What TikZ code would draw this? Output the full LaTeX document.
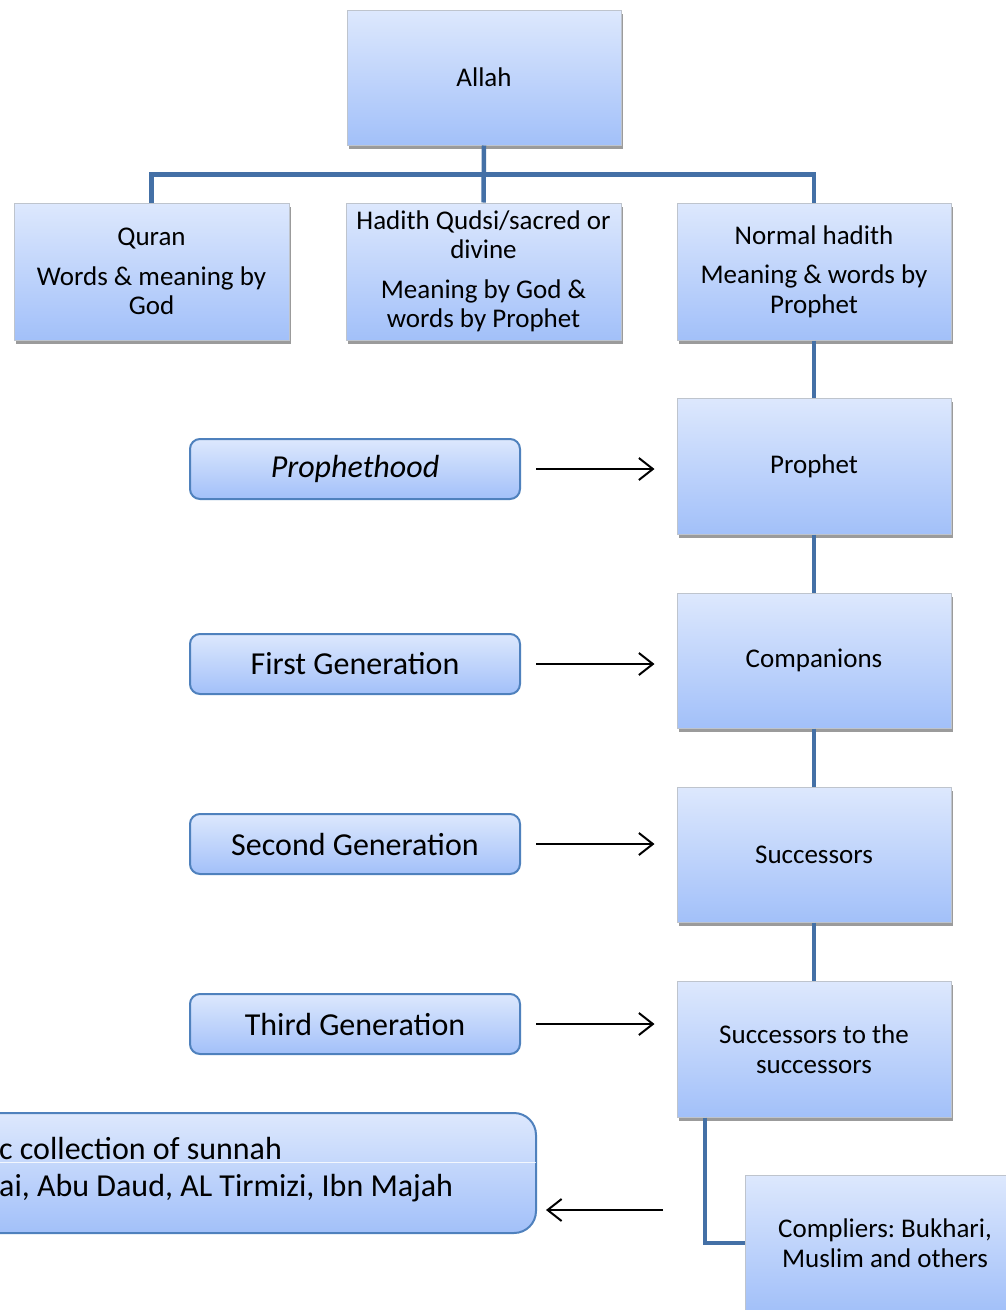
\documentclass[tikz,border=0pt]{standalone}
\usepackage{fontspec}
\setmainfont{Carlito}
\frenchspacing
\usetikzlibrary{arrows.meta,shadows}
\definecolor{topc}{RGB}{221,232,253}
\definecolor{botc}{RGB}{162,192,249}
\definecolor{connc}{RGB}{68,112,166}
\definecolor{rbord}{RGB}{79,129,189}
\definecolor{gbord}{RGB}{190,196,205}
\tikzset{
  sqbox/.style={rectangle, draw=gbord, line width=1pt, top color=topc, bottom color=botc,
    minimum width=274pt, minimum height=136pt, align=center, inner sep=2pt,
    font=\fontsize{27}{29.5}\selectfont\frenchspacing,
    drop shadow={shadow xshift=1.5pt, shadow yshift=-3.5pt, fill=black!65, opacity=0.6}},
  rbox/.style={rectangle, rounded corners=10pt, draw=rbord, line width=2pt, top color=topc, bottom color=botc,
    minimum width=330pt, minimum height=60pt, align=center, font=\fontsize{32}{36}\selectfont},
  conn/.style={draw=connc, line width=4.5pt},
  arr/.style={draw=black, line width=2pt, -{Straight Barb[length=14pt,width=22pt,line width=2pt]}},
  bigtxt/.style={font=\fontsize{32}{36}\selectfont\frenchspacing, inner sep=0pt}
}
\begin{document}
\begin{tikzpicture}[x=1pt,y=-1pt]
\clip (0,0) rectangle (1006,1310);
\fill[white] (0,0) rectangle (1006,1310);

% top tree
\node[sqbox, minimum height=135pt] (allah) at (484,77.5) {Allah};
\node[sqbox, minimum width=275pt, minimum height=137pt] (quran) at (151.5,271.5) {Quran\\[10pt]Words \& meaning by\\God};
\node[sqbox, minimum width=275pt, minimum height=137pt] (qudsi) at (483.5,271.5) {Hadith Qudsi/sacred or\\divine\\[10pt]Meaning by God \&\\words by Prophet};
\node[sqbox, minimum height=137pt] (normal) at (814,271.5) {Normal hadith\\[10pt]Meaning \& words by\\Prophet};

% chain
\node[sqbox] (prophet) at (814,466) {Prophet};
\node[sqbox, minimum height=135pt] (comp) at (814,660.5) {Companions};
\node[sqbox, minimum height=135pt] (succ) at (814,854.5) {Successors};
\node[sqbox] (sts) at (814,1049) {Successors to the\\successors};
\node[sqbox, minimum width=280pt, minimum height=136pt] (compl) at (885,1243) {Compliers: Bukhari,\\Muslim and others};

% generation boxes
\node[rbox] (g0) at (355,469) {\itshape Prophethood};
\node[rbox] (g1) at (355,664) {First Generation};
\node[rbox] (g2) at (355,844) {Second Generation};
\node[rbox] (g3) at (355,1024) {Third Generation};

% collection box
\node[rbox, rounded corners=22pt, minimum width=600pt, minimum height=120pt] (coll) at (236,1173) {};
\draw[white, opacity=0.8, line width=1pt] ([xshift=-1pt]coll.west |- 0,1162) -- ([xshift=-1pt]coll.east |- 0,1162);
\node[bigtxt, anchor=west] (c1) at (-1,1148) {c collection of sunnah};
\node[bigtxt, anchor=west] (c2) at (-1,1188) {ai, Abu Daud, AL Tirmizi, Ibn Majah};

% connectors
\draw[conn] (quran.north) -- ++(0,-28) -| (normal.north);
\draw[conn] (allah.south) -- (qudsi.north);
\draw[conn] (normal.south) -- (prophet.north);
\draw[conn] (prophet.south) -- (comp.north);
\draw[conn] (comp.south) -- (succ.north);
\draw[conn] (succ.south) -- (sts.north);
\draw[conn] ([xshift=-109pt]sts.south) |- (compl.west);

% arrows
\draw[arr] ([xshift=15pt]g0.east) -- ([xshift=-22pt]prophet.west |- g0.east);
\draw[arr] ([xshift=15pt]g1.east) -- ([xshift=-22pt]comp.west |- g1.east);
\draw[arr] ([xshift=15pt]g2.east) -- ([xshift=-22pt]succ.west |- g2.east);
\draw[arr] ([xshift=15pt]g3.east) -- ([xshift=-22pt]sts.west |- g3.east);
\coordinate (a5) at (663,1210);
\draw[arr] (a5) -- ([xshift=9pt]coll.east |- a5);
\end{tikzpicture}
\end{document}
